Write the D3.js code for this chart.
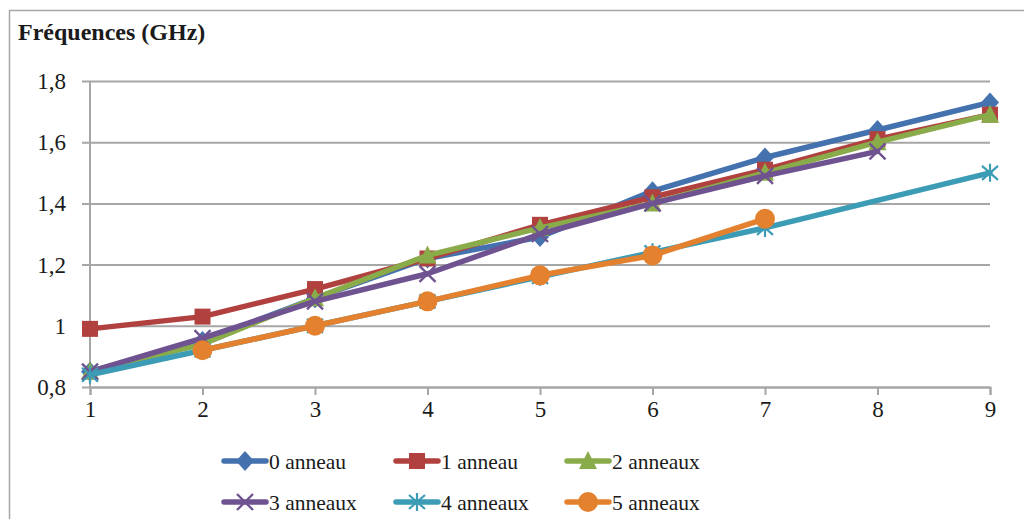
<!DOCTYPE html>
<html><head><meta charset="utf-8">
<script src="https://cdn.jsdelivr.net/npm/d3@7"></script>
<style>body{margin:0;background:#fff}svg{display:block}
svg text{font-family:"Liberation Serif","Times New Roman",Times,Tinos,"DejaVu Serif",serif;}
</style>
</head><body>
<svg id="c" width="1024" height="519"></svg>
<script>
const categories = [1,2,3,4,5,6,7,8,9];
const yTicks = [0.8,1,1.2,1.4,1.6,1.8];
const yTickLabels = ["0,8","1","1,2","1,4","1,6","1,8"];
const seriesNames = ["0 anneau","1 anneau","2 anneaux","3 anneaux","4 anneaux","5 anneaux"];
const s0 = [0.85,0.95,1.09,1.22,1.29,1.44,1.55,1.64,1.73];
const s1 = [0.99,1.03,1.12,1.22,1.33,1.42,1.51,1.61,1.69];
const s2 = [0.85,0.94,1.09,1.23,1.32,1.40,1.50,1.60,1.69];
const s3 = [0.85,0.96,1.08,1.17,1.30,1.40,1.49,1.57,null];
const s4 = [0.84,0.92,1.00,1.08,1.16,1.24,1.32,null,1.50];
const s5 = [null,0.92,1.00,1.08,1.165,1.23,1.35,null,null];
const colors = ["#4472ae","#b0413e","#8aab4a","#6f5391","#3c9cb6","#e3812f"];
const markers = ["diamond","square","triangle","x","star","circle"];
const allSeries = [s0,s1,s2,s3,s4,s5];

const svg = d3.select("#c");
const grey = "#a6a6a6";

svg.append("rect").attr("x",9.5).attr("y",10.5).attr("width",1100).attr("height",600)
  .attr("fill","none").attr("stroke",grey).attr("stroke-width",1.5);

svg.append("text").attr("x",18).attr("y",40).attr("font-weight","bold")
  .attr("font-size",24).attr("fill","#1a1a1a").text("Fréquences (GHz)");

const x = d3.scaleLinear().domain([1,9]).range([90,990]);
const y = d3.scaleLinear().domain([0.8,1.8]).range([387,81]);

const yAxis = d3.axisLeft(y).tickValues(yTicks).tickSize(908).tickPadding(16)
  .tickFormat((d,i)=>yTickLabels[i]);
const gy = svg.append("g").attr("transform","translate(990,0)").call(yAxis);
gy.attr("font-family",null).attr("font-size",null);
gy.select(".domain").remove();
gy.selectAll("line").attr("stroke",grey).attr("stroke-width",2);
gy.selectAll("text").attr("font-size",23).attr("fill","#1a1a1a").attr("dy","0.33em");
svg.append("line").attr("x1",90).attr("x2",90).attr("y1",81).attr("y2",387)
  .attr("stroke",grey).attr("stroke-width",2);

const xAxis = d3.axisBottom(x).tickValues(categories).tickSize(8).tickPadding(6).tickFormat(d3.format("d"));
const gx = svg.append("g").attr("transform","translate(0,387)").call(xAxis);
gx.attr("font-family",null).attr("font-size",null);
gx.select(".domain").attr("stroke",grey).attr("stroke-width",2);
gx.selectAll("line").attr("stroke",grey).attr("stroke-width",2);
gx.selectAll("text").attr("font-size",23).attr("fill","#1a1a1a");

function drawMarker(g, type, cx, cy, color){
  const s = 8;
  if(type==="diamond"){
    g.append("path").attr("d",`M${cx},${cy-s-2}L${cx+s+1},${cy}L${cx},${cy+s+2}L${cx-s-1},${cy}Z`).attr("fill",color);
  } else if(type==="square"){
    g.append("rect").attr("x",cx-s).attr("y",cy-s).attr("width",2*s).attr("height",2*s).attr("fill",color);
  } else if(type==="triangle"){
    g.append("path").attr("d",`M${cx},${cy-s-2}L${cx+s+1},${cy+s}L${cx-s-1},${cy+s}Z`).attr("fill",color);
  } else if(type==="x"){
    g.append("path").attr("d",`M${cx-s},${cy-s}L${cx+s},${cy+s}M${cx+s},${cy-s}L${cx-s},${cy+s}`)
      .attr("stroke",color).attr("stroke-width",2.4).attr("fill","none");
  } else if(type==="star"){
    g.append("path").attr("d",`M${cx-s},${cy-s+1}L${cx+s},${cy+s-1}M${cx+s},${cy-s+1}L${cx-s},${cy+s-1}M${cx},${cy-s-1}L${cx},${cy+s+1}`)
      .attr("stroke",color).attr("stroke-width",2.2).attr("fill","none");
  } else if(type==="circle"){
    g.append("circle").attr("cx",cx).attr("cy",cy).attr("r",s+2).attr("fill",color);
  }
}

const line = d3.line().x(d=>x(d[0])).y(d=>y(d[1]));
allSeries.forEach((vals,i)=>{
  const pts = categories.map((c,j)=>[c,vals[j]]).filter(d=>d[1]!=null);
  const g = svg.append("g");
  g.append("path").attr("d",line(pts)).attr("fill","none").attr("stroke",colors[i])
    .attr("stroke-width",5.5).attr("stroke-linejoin","round").attr("stroke-linecap","round");
  pts.forEach(p=>drawMarker(g, markers[i], x(p[0]), y(p[1]), colors[i]));
});

const legX = [224,396,567];
const legY = [461,502];
seriesNames.forEach((name,i)=>{
  const lx = legX[i%3], ly = legY[Math.floor(i/3)];
  const g = svg.append("g");
  g.append("line").attr("x1",lx).attr("x2",lx+42).attr("y1",ly).attr("y2",ly)
    .attr("stroke",colors[i]).attr("stroke-width",5.5).attr("stroke-linecap","round");
  drawMarker(g, markers[i], lx+21, ly, colors[i]);
  g.append("text").attr("x",lx+45).attr("y",ly).attr("dy","0.35em")
    .attr("font-size",21.5).attr("fill","#1a1a1a").text(name);
});
</script>
</body></html>
